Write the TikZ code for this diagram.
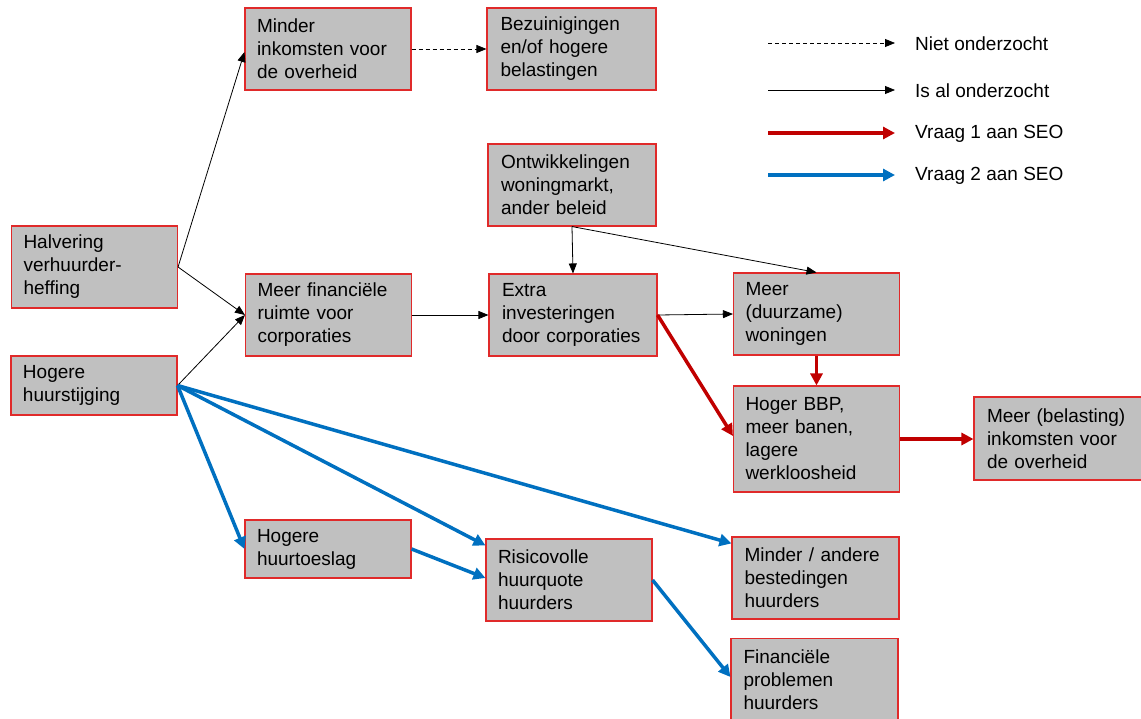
\documentclass[tikz,border=0pt]{standalone}
\usepackage{fontspec}
\setmainfont{Liberation Sans}
\usetikzlibrary{arrows.meta}
\definecolor{boxgray}{HTML}{C0C0C0}
\definecolor{boxred}{HTML}{E02A2A}
\definecolor{arrred}{HTML}{C00000}
\definecolor{arrblue}{HTML}{0070C0}
\tikzset{
  box/.style={draw=boxred, fill=boxgray, line width=1.1pt, inner xsep=12pt, inner ysep=0pt,
    text width=142pt, align=left, font=\fontsize{19}{23}\selectfont},
  thin/.style={draw=black, line width=0.8pt, -{Triangle[length=10pt,width=8pt]}},
  dashedarrow/.style={thin, dash pattern=on 4pt off 3pt},
  redarrow/.style={draw=arrred, line width=3.5pt, -{Triangle[length=12pt,width=12pt]}},
  bluearrow/.style={draw=arrblue, line width=3.5pt, -{Triangle[length=12pt,width=12pt]}},
  legtext/.style={anchor=west, inner sep=0pt, font=\fontsize{19}{23}\selectfont}
}
\begin{document}
\begin{tikzpicture}[x=1pt,y=-1pt]
\useasboundingbox (0,0) rectangle (1141,718);
% boxes
\node[box, minimum width=165pt, minimum height=82pt] (hal) at (94.5,267) {Halvering\\verhuurder-\\heffing};
\node[box, minimum width=164pt, minimum height=59pt] (hog) at (94,385.5) {Hogere\\huurstijging};
\node[box, minimum width=166pt, minimum height=82pt] (min) at (328,49) {Minder\\inkomsten voor\\de overheid};
\node[box, minimum width=165pt, minimum height=82pt] (fin) at (328.5,315) {Meer financiële\\ruimte voor\\corporaties};
\node[box, minimum width=169pt, minimum height=82pt] (bez) at (571.5,49) {Bezuinigingen\\en/of hogere\\belastingen};
\node[box, minimum width=168pt, minimum height=82pt] (ont) at (572,185) {Ontwikkelingen\\woningmarkt,\\ander beleid};
\node[box, minimum width=168pt, minimum height=82pt] (ext) at (573,315) {Extra\\investeringen\\door corporaties};
\node[box, minimum width=165pt, minimum height=82pt] (won) at (816.5,314) {Meer\\(duurzame)\\woningen};
\node[box, minimum width=165pt, minimum height=106pt] (bbp) at (816.5,439) {Hoger BBP,\\meer banen,\\lagere\\werkloosheid};
\node[box, minimum width=168pt, minimum height=83pt] (bel) at (1058,438.5) {Meer (belasting)\\inkomsten voor\\de overheid};
\node[box, minimum width=167pt, minimum height=82pt] (and) at (815.5,578) {Minder / andere\\bestedingen\\huurders};
\node[box, minimum width=167pt, minimum height=83pt] (fpr) at (814.5,680) {Financiële\\problemen\\huurders};
\node[box, minimum width=164pt, minimum height=82pt] (ris) at (569,580) {Risicovolle\\huurquote\\huurders};
\node[box, minimum width=166pt, minimum height=58pt] (toe) at (328,549) {Hogere\\huurtoeslag};
% black arrows
\draw[thin] (hal.east) -- ([yshift=-3pt]min.west);
\draw[thin] (hal.east) -- (fin.west);
\draw[thin] (hog.east) -- (fin.west);
\draw[dashedarrow] (min.east) -- (bez.west);
\draw[thin] (fin.east) -- (ext.west);
\draw[thin] (ont.south) -- (ext.north);
\draw[thin] (ont.south) -- (won.north);
\draw[thin] (ext.east) -- (won.west);
% red arrows
\draw[redarrow] (ext.east) -- ([yshift=3pt]bbp.west);
\draw[redarrow] (won.south) -- (bbp.north);
\draw[redarrow] (bbp.east) -- (bbp.east -| bel.west);
% blue arrows
\draw[bluearrow] (hog.east) -- (toe.west);
\draw[bluearrow] (hog.east) -- ([yshift=-7pt]ris.north west);
\draw[bluearrow] (hog.east) -- ([yshift=-7pt]and.north west);
\draw[bluearrow] (toe.east) -- ([yshift=2pt]ris.west);
\draw[bluearrow] (ris.east) -- ([yshift=3pt]fpr.west);
% legend
\coordinate (l1a) at (768,43); \coordinate (l1b) at (895,43);
\coordinate (l2a) at (768,90); \coordinate (l2b) at (895,90);
\coordinate (l3a) at (768,133); \coordinate (l3b) at (895,133);
\coordinate (l4a) at (768,175); \coordinate (l4b) at (895,175);
\draw[dashedarrow] (l1a) -- (l1b);
\draw[thin] (l2a) -- (l2b);
\draw[redarrow] (l3a) -- (l3b);
\draw[bluearrow] (l4a) -- (l4b);
\node[legtext] (t1) at (915,44) {Niet onderzocht};
\node[legtext] (t2) at (915,91) {Is al onderzocht};
\node[legtext] (t3) at (915,134) {Vraag 1 aan SEO};
\node[legtext] (t4) at (915,176) {Vraag 2 aan SEO};
\end{tikzpicture}
\end{document}
